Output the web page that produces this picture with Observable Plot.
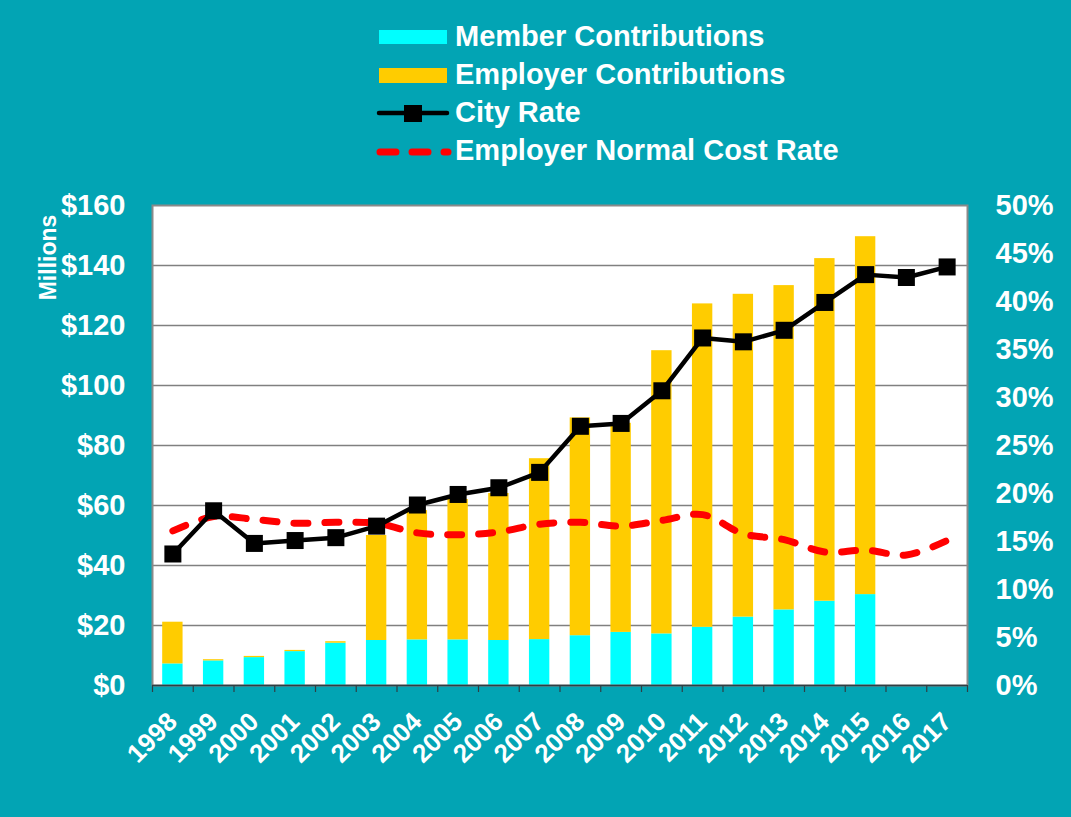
<!DOCTYPE html>
<html>
<head>
<meta charset="utf-8">
<script src="https://cdn.jsdelivr.net/npm/d3@7"></script>
<script src="https://cdn.jsdelivr.net/npm/@observablehq/plot@0.6"></script>
<style>
  html, body { margin: 0; padding: 0; background: #02A4B4; }
  #wrap { position: relative; width: 1071px; height: 817px; background: #02A4B4; overflow: hidden; }
  #legend { position: absolute; left: 0; top: 0; pointer-events: none; }
  #chart { position: absolute; left: 0; top: 0; }
</style>
</head>
<body>
<div id="wrap">
  <div id="chart"></div>
  <svg id="legend" width="1071" height="190" font-family="'Liberation Sans', Arial, sans-serif" font-weight="bold" font-size="29" fill="white">
    <rect x="379" y="30" width="68" height="14" fill="#00FFFF"></rect>
    <text x="455" y="46">Member Contributions</text>
    <rect x="379" y="68" width="68" height="15" fill="#FFCC00"></rect>
    <text x="455" y="84">Employer Contributions</text>
    <line x1="379" x2="447" y1="113" y2="113" stroke="black" stroke-width="4.5" stroke-linecap="round"></line>
    <rect x="404" y="105" width="18" height="17" fill="black"></rect>
    <text x="455" y="122">City Rate</text>
    <line x1="380" x2="448" y1="152" y2="152" stroke="#FF0000" stroke-width="7" stroke-linecap="round" stroke-dasharray="16,16"></line>
    <text x="455" y="160">Employer Normal Cost Rate</text>
  </svg>
</div>
<script>
// ---- data ----
const years = [1998, 1999, 2000, 2001, 2002, 2003, 2004, 2005, 2006, 2007, 2008, 2009, 2010, 2011, 2012, 2013, 2014, 2015, 2016, 2017];
const memberContrib = [7.2, 8.2, 9.3, 11.3, 14.1, 15.0, 15.2, 15.2, 15.0, 15.3, 16.6, 17.7, 17.2, 19.4, 22.8, 25.2, 28.1, 30.3];
const employerContrib = [13.9, 0.4, 0.4, 0.4, 0.5, 35.0, 43.1, 46.8, 49.0, 60.3, 72.6, 69.7, 94.4, 107.8, 107.6, 108.1, 114.2, 119.3];
const cityRate = [13.7, 18.2, 14.8, 15.1, 15.4, 16.6, 18.8, 19.9, 20.6, 22.2, 27.0, 27.3, 30.7, 36.2, 35.8, 37.0, 39.9, 42.8, 42.5, 43.6];
const normalCostRate = [16.1, 17.6, 17.3, 16.9, 17.0, 16.9, 15.9, 15.7, 16.0, 16.8, 17.0, 16.6, 17.2, 17.8, 15.8, 15.2, 13.9, 14.1, 13.6, 15.1];
const seriesNames = ["Member Contributions", "Employer Contributions"];
const dollarTicks = [0, 20, 40, 60, 80, 100, 120, 140, 160];
const pctTicks = [0, 5, 10, 15, 20, 25, 30, 35, 40, 45, 50];

// ---- layout ----
const W = 1071, H = 817;
const mL = 152, mR = 104, mT = 205, mB = 132;
const pctToDollar = 160 / 50; // right axis 0-50% maps to left axis 0-160
const step = (W - mL - mR) / years.length;

const barRows = [];
memberContrib.forEach((v, i) => barRows.push({year: years[i], type: seriesNames[0], value: v}));
employerContrib.forEach((v, i) => barRows.push({year: years[i], type: seriesNames[1], value: v}));
const rateRows = years.map((y, i) => ({year: y, city: cityRate[i], normal: normalCostRate[i]}));

const font = "'Liberation Sans', Arial, sans-serif";

const chart = Plot.plot({
  width: W,
  height: H,
  marginLeft: mL,
  marginRight: mR,
  marginTop: mT,
  marginBottom: mB,
  style: {background: "transparent", color: "white", fontFamily: font, fontWeight: "bold", overflow: "visible"},
  x: {type: "band", domain: years, paddingInner: 0.5, paddingOuter: 0.25, round: false, axis: null},
  y: {domain: [0, 160], axis: null},
  color: {domain: seriesNames, range: ["#00FFFF", "#FFCC00"]},
  marks: [
    Plot.frame({fill: "white", stroke: null}),
    Plot.ruleY(dollarTicks.slice(1, -1), {stroke: "#808080", strokeWidth: 1.3}),
    Plot.barY(barRows, {x: "year", y: "value", fill: "type", order: seriesNames}),
    Plot.frame({stroke: "#8a8a8a", strokeWidth: 2}),
    Plot.ruleY([0], {stroke: "#2f3f44", strokeWidth: 1.5}),
    Plot.ruleX(years, {x: d => d, dx: -step / 2, y1: 0, y2: 0, insetBottom: -7, stroke: "#2f3f44", strokeWidth: 1.2}),
    Plot.ruleX(years.slice(-1), {x: d => d, dx: step / 2, y1: 0, y2: 0, insetBottom: -7, stroke: "#2f3f44", strokeWidth: 1.2}),
    Plot.line(rateRows, {x: "year", y: d => d.normal * pctToDollar, stroke: "#FF0000", strokeWidth: 7, strokeDasharray: "14,17", strokeLinecap: "round", curve: "catmull-rom"}),
    Plot.line(rateRows, {x: "year", y: d => d.city * pctToDollar, stroke: "black", strokeWidth: 4.5}),
    Plot.dot(rateRows, {x: "year", y: d => d.city * pctToDollar, symbol: "square", r: 9.6, fill: "black", stroke: null}),
    Plot.axisY({anchor: "left", ticks: dollarTicks, tickFormat: d => "$" + d, tickSize: 0, tickPadding: 27, fontSize: 29, label: null}),
    Plot.axisY({anchor: "right", ticks: pctTicks.map(p => p * pctToDollar), tickFormat: d => Math.round(d / pctToDollar) + "%", tickSize: 0, tickPadding: 28, fontSize: 29, label: null}),
    Plot.text(years, {x: d => d, text: d => String(d), frameAnchor: "bottom", dy: 32, rotate: -45, textAnchor: "end", lineAnchor: "middle", fontSize: 26, fill: "white"}),
    Plot.text(["Millions"], {text: d => d, frameAnchor: "left", dx: -104, dy: -188, rotate: -90, textAnchor: "middle", lineAnchor: "middle", fontSize: 23, fill: "white"})
  ]
});
document.getElementById("chart").appendChild(chart);
</script>
</body>
</html>
